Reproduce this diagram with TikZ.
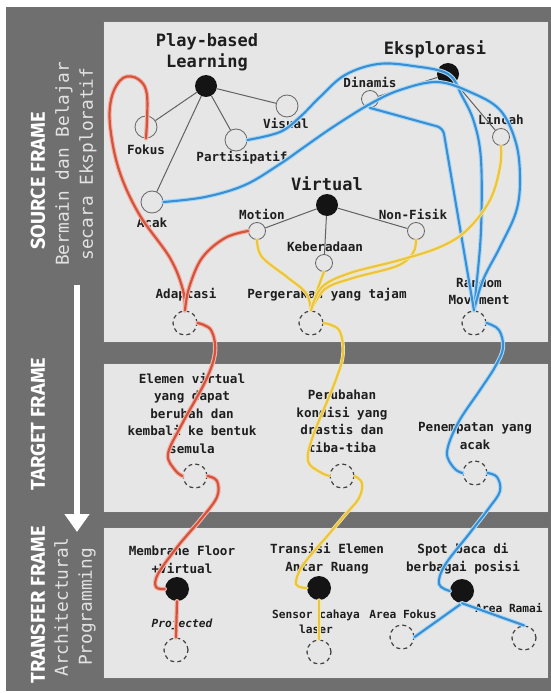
\documentclass[tikz,border=0pt]{standalone}
\usepackage{fontspec}
\setmonofont{DejaVu Sans Mono}
\newfontfamily\framefont{Fira Sans}
\usetikzlibrary{arrows.meta}
\definecolor{outerg}{HTML}{6F6F6F}
\definecolor{panelc}{HTML}{E6E6E6}
\definecolor{redc}{HTML}{D4533E}
\definecolor{redg}{HTML}{F2B3A6}
\definecolor{bluec}{HTML}{3A8ED3}
\definecolor{blueg}{HTML}{A9D9F6}
\definecolor{yelc}{HTML}{EBC53F}
\definecolor{yelg}{HTML}{F6E7A8}
\definecolor{ink}{HTML}{1E1E1E}
\definecolor{sidet}{HTML}{E2E2E2}
\begin{document}
\begin{tikzpicture}[x=1pt,y=-1pt,
  panelbox/.style={fill=panelc, draw=black!55, line width=0.6pt},
  bigtitle/.style={font=\ttfamily\bfseries\fontsize{17}{21}\selectfont, text=ink, align=center, inner sep=0pt},
  lbl/.style={font=\ttfamily\bfseries\fontsize{12.6}{17.5}\selectfont, text=ink, align=center, inner sep=0pt},
  smalllbl/.style={font=\ttfamily\bfseries\fontsize{11.2}{15}\selectfont, text=ink, align=center, inner sep=0pt},
  frametitle/.style={font=\framefont\bfseries\fontsize{20}{24}\selectfont, text=white, rotate=90, inner sep=0pt},
  framesub/.style={font=\ttfamily\fontsize{17.8}{24}\selectfont, text=sidet, rotate=90, align=center, inner sep=0pt},
  bigdot/.style={circle, fill=black!92, minimum size=22pt, inner sep=0pt},
  hollow/.style={circle, draw=black!60, fill=panelc, line width=0.8pt, minimum size=22pt, inner sep=0pt},
  hollowsm/.style={hollow, minimum size=17pt},
  dcirc/.style={circle, draw=black!75, dash pattern=on 4pt off 3.2pt, line width=1.2pt, minimum size=24pt, inner sep=0pt},
  gline/.style={draw=black!62, line width=1pt},
  redline/.style={draw=redc, line width=2.2pt, line cap=round, preaction={draw=redg, line width=4.4pt, line cap=round}},
  blueline/.style={draw=bluec, line width=2.1pt, line cap=round, preaction={draw=blueg, line width=4.2pt, line cap=round}},
  yelline/.style={draw=yelc, line width=2.2pt, line cap=round, preaction={draw=yelg, line width=3.6pt, line cap=round}},
  sm/.style={smooth, tension=0.6}
]
\useasboundingbox (0,0) rectangle (551,693);
\fill[white] (0,0) rectangle (551,693);
\fill[outerg] (6,7) rectangle (551,691);
% panels
\draw[panelbox] (103,21) rectangle (548,342);
\draw[panelbox] (103,363) rectangle (548,512);
\draw[panelbox] (103,527) rectangle (548,678);

% side column
\node[frametitle] (srcf) at (38,181) {SOURCE FRAME};
\node[framesub] (srcs) at (76,164) {Bermain dan Belajar\\secara Eksploratif};
\node[frametitle] (tgtf) at (38,424) {TARGET FRAME};
\node[frametitle] (trff) at (38,605) {TRANSFER FRAME};
\node[framesub] (trfs) at (75,607) {Architectural\\Programming};
\coordinate (atop) at (77,285);
\coordinate (abot) at (77,532);
\draw[white, line width=6.5pt, -{Triangle[width=24pt,length=18pt]}] (atop) -- (abot);

% ---------- SOURCE nodes ----------
\node[bigtitle] (pblt) at (207,52.5) {Play-based\\Learning};
\node[bigdot] (pbl) at (206,86) {};
\node[hollow] (fokus) at (146,127) {};
\node[lbl] (fokust) at (146,150) {Fokus};
\node[hollow] (partis) at (236,140) {};
\node[lbl] (partist) at (242,158) {Partisipatif};
\node[hollow] (visual) at (287,106) {};
\node[lbl] (visualt) at (286,123) {Visual};
\node[hollow] (acak) at (152,202) {};
\node[lbl] (acakt) at (152,223) {Acak};

\node[bigtitle] (ekst) at (435,49) {Eksplorasi};
\node[bigdot] (eks) at (448,74) {};
\node[hollowsm] (dinamis) at (370,99) {};
\node[lbl] (dinamist) at (370,82) {Dinamis};
\node[hollowsm] (lincah) at (501,137) {};
\node[lbl] (lincaht) at (501,119) {Lincah};

\node[bigtitle] (virtt) at (327,184) {Virtual};
\node[bigdot] (virt) at (327,205) {};
\node[hollowsm] (motion) at (257,231) {};
\node[lbl] (motiont) at (262,214) {Motion};
\node[hollowsm] (keber) at (324,263) {};
\node[lbl] (kebert) at (325,247) {Keberadaan};
\node[hollowsm] (nonfis) at (416,231) {};
\node[lbl] (nonfist) at (413,214) {Non-Fisik};

\node[lbl] (adaptt) at (186,295) {Adaptasi};
\node[dcirc] (adapt) at (185,323) {};
\node[lbl] (pergt) at (327,295) {Pergerakan yang tajam};
\node[dcirc] (perg) at (311,323) {};
\node[lbl] (randt) at (479,291.5) {Random\\Movement};
\node[dcirc] (rand) at (474,323) {};

% ---------- TARGET nodes ----------
\node[lbl] (elemt) at (192,413) {Elemen virtual\\yang dapat\\berubah dan\\kembali ke bentuk\\semula};
\node[dcirc] (tdca) at (195,476) {};
\node[lbl] (perubt) at (342,421.5) {Perubahan\\kondisi yang\\drastis dan\\tiba-tiba};
\node[dcirc] (tdcb) at (342,476) {};
\node[lbl] (penemt) at (475,436) {Penempatan yang\\acak};
\node[dcirc] (tdcc) at (475,473) {};

% ---------- TRANSFER nodes ----------
\node[lbl] (membt) at (182,560) {Membrane Floor\\+Virtual};
\node[bigdot, minimum size=24pt] (mdot) at (177,589) {};
\node[smalllbl, font=\ttfamily\bfseries\itshape\fontsize{11.2}{15}\selectfont] (projt) at (182,624) {Projected};
\node[dcirc] (mdc) at (176,650) {};

\node[lbl] (transt) at (327,558.5) {Transisi Elemen\\Antar Ruang};
\node[bigdot, minimum size=24pt] (tdot) at (319,588) {};
\node[smalllbl] (sensort) at (316,621.5) {Sensor cahaya\\laser};
\node[dcirc] (tdc) at (319,652) {};

\node[lbl] (spott) at (463,558.5) {Spot baca di\\berbagai posisi};
\node[bigdot, minimum size=24pt] (sdot) at (462,591) {};
\node[smalllbl] (aft) at (403,614) {Area Fokus};
\node[dcirc] (afdc) at (402,637) {};
\node[smalllbl] (art) at (509,608) {Area Ramai};
\node[dcirc] (ardc) at (524,638) {};

% ---------- gray hierarchy lines ----------
\draw[gline] (pbl) -- (fokus);
\draw[gline] (pbl) -- (partis);
\draw[gline] (pbl) -- (visual);
\draw[gline] (pbl) -- (acak);
\draw[gline] (eks) -- (dinamis);
\draw[gline] (eks) -- (lincah);
\draw[gline] (virt) -- (motion);
\draw[gline] (virt) -- (keber);
\draw[gline] (virt) -- (nonfis);

% ---------- blue curves ----------
\draw[blueline] plot[sm] coordinates {(partis.east) (280,132) (300,117) (320,97) (345,75) (378,64) (413,66) (eks) (462,96) (474,122) (481,160) (481,230) (476,290) (rand.north)};
\draw[blueline] plot[sm] coordinates {(acak.east) (205,197) (245,185) (280,164) (300,150) (333,127) (370,104) (400,90) (437,82) (470,92) (500,110) (516,143) (520,180) (516,212) (500,247) (483,280) (rand.north)};
\draw[blueline, rounded corners=6pt] (dinamis.south) -- (443,128) -- (rand.north);
\draw[blueline] plot[sm] coordinates {(rand.east) (499,330) (503,348) (495,367) (480,390) (458,423) (447,452) (454,468) (tdcc.west)};
\draw[blueline] plot[sm] coordinates {(tdcc.east) (497,477) (500,491) (489,508) (469,534) (445,565) (439,584) (sdot.west)};
\draw[blueline] (sdot.south) -- (afdc.east);
\draw[blueline] (sdot.south) -- (ardc.north);

% ---------- yellow curves ----------
\draw[yelline] plot[sm] coordinates {(motion.south) (262,257) (287,277) (306,293) (perg.north)};
\draw[yelline] plot[sm] coordinates {(keber.south) (318,288) (perg.north)};
\draw[yelline] plot[sm] coordinates {(nonfis.south) (413,253) (397,266) (353,278) (325,289) (perg.north)};
\draw[yelline] plot[sm] coordinates {(lincah.south) (500,167) (490,200) (467,230) (440,247) (400,260) (350,273) (322,287) (perg.north)};
\draw[yelline] plot[sm] coordinates {(perg.east) (339,330) (343,354) (335,382) (313,436) (308,461) (320,472) (tdcb.west)};
\draw[yelline] plot[sm] coordinates {(tdcb.east) (362,483) (359,498) (345,515) (329,534) (303,565) (296,584) (tdot.west)};
\draw[yelline] (tdot.south) -- (tdc.north);

% ---------- red curves ----------
\draw[redline] plot[sm] coordinates {(fokus.south) (147,95) (138,79) (123,78) (112,96) (110,125) (119,170) (139,214) (170,258) (183,290) (adapt.north)};
\draw[redline] plot[sm] coordinates {(motion.west) (225,238) (202,258) (189,288) (adapt.north)};
\draw[redline] plot[sm] coordinates {(adapt.east) (211,330) (215,352) (206,380) (182,424) (168,454) (175,470) (tdca.west)};
\draw[redline] plot[sm] coordinates {(tdca.east) (217,481) (217,497) (201,519) (178,546) (158,574) (156,587) (mdot.west)};
\draw[redline] (mdot.south) -- (mdc.north);
\end{tikzpicture}
\end{document}
